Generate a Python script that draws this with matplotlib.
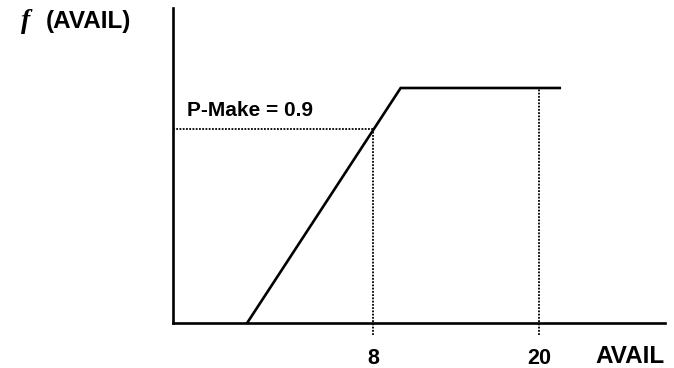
import matplotlib.pyplot as plt

# schematic curve f(AVAIL)
curve_x = [-1.1, 10.0, 21.5]
curve_y = [0.0, 1.09, 1.09]

p_make = 0.9
mark_x = [8, 20]
mark_labels = ["8", "20"]
mark_top = [p_make, 1.09]

plt.rcParams['font.family'] = ['Liberation Sans', 'DejaVu Sans']

fig = plt.figure(figsize=(6.74, 3.68), dpi=100)
ax = fig.add_axes([173 / 674, 45 / 368, 492 / 674, 315 / 368])
ax.set_xlim(-6.458, 29.11)
ax.set_ylim(0, 1.461)

for s in ['top', 'right']:
    ax.spines[s].set_visible(False)
for s in ['left', 'bottom']:
    ax.spines[s].set_linewidth(1.9)
    ax.spines[s].set_color('black')
ax.set_xticks([])
ax.set_yticks([])

ax.plot(curve_x, curve_y, color='black', lw=1.9, solid_joinstyle='miter')

# dotted guides
for x, top in zip(mark_x, mark_top):
    ax.plot([x, x], [-0.055, top], color='black', lw=1.3, ls=(0, (1, 0.8)), clip_on=False)
ax.plot([-6.458, mark_x[0]], [p_make, p_make], color='black', lw=1.3, ls=(0, (1, 0.8)), clip_on=False)

for x, lab in zip(mark_x, mark_labels):
    ax.text(x, -0.19, lab, ha='center', va='baseline', fontsize=15.5, fontweight='bold', clip_on=False)

ax.text(-5.45, 0.962, "P-Make = 0.9", fontsize=15, fontweight='bold', ha='left', va='baseline')

fig.text(665 / 674, 1 - 363 / 368, "AVAIL", ha='right', va='baseline', fontsize=17.5, fontweight='bold')
fig.text(21 / 674, 1 - 28 / 368, "f", ha='left', va='baseline', fontsize=20,
         fontstyle='italic', fontweight='bold', family=['Liberation Serif', 'DejaVu Serif'])
fig.text(46 / 674, 1 - 28 / 368, "(AVAIL)", ha='left', va='baseline', fontsize=17.5, fontweight='bold')

fig.savefig('out.png', dpi=100)
